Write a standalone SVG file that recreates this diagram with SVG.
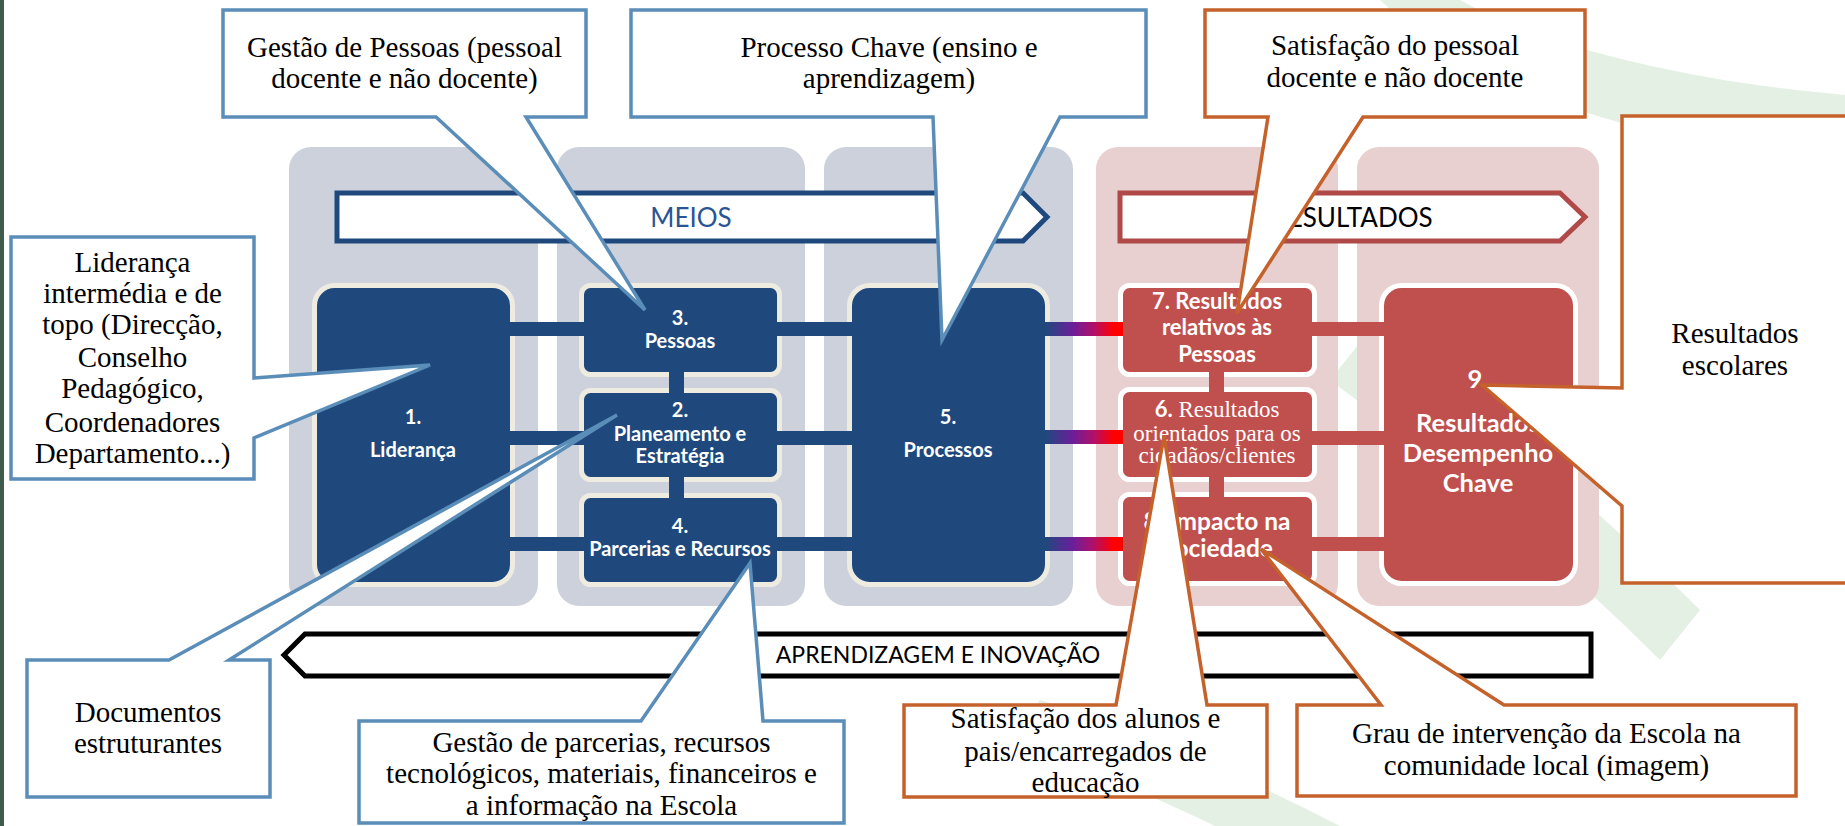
<svg xmlns="http://www.w3.org/2000/svg" width="1845" height="826" viewBox="0 0 1845 826">
<defs>
<style>
.col-b{fill:#cdd1db}
.col-r{fill:#e8cfd0}
.nb{fill:#1f497d;stroke:#eeece1;stroke-width:5}
.nr{fill:#c0504d;stroke:#ffffff;stroke-width:5}
.bb{fill:#1f497d}
.br{fill:#c0504d}
.bg{fill:url(#gbar)}
.nt{font-family:Lato,'Open Sans',sans-serif;font-weight:bold;fill:#ffffff;text-anchor:middle}
.ns{font-family:'Liberation Serif','DejaVu Serif',serif;fill:#ffffff;text-anchor:middle}
.bt{font-family:Lato,'Open Sans',sans-serif;text-anchor:middle}
.cb{fill:#ffffff;stroke:#5b8db9;stroke-width:3.5;stroke-linejoin:miter}
.co{fill:#ffffff;stroke:#c5622b;stroke-width:3.5;stroke-linejoin:miter}
.ct{font-family:'Liberation Serif','DejaVu Serif',serif;font-size:29px;fill:#000000;text-anchor:middle}
.sw{fill:#d6e8d6;opacity:0.65}
</style>
<linearGradient id="gbar" x1="0" y1="0" x2="1" y2="0">
<stop offset="0" stop-color="#1f497d"/>
<stop offset="0.35" stop-color="#6a1f9a"/>
<stop offset="0.62" stop-color="#b0106a"/>
<stop offset="0.88" stop-color="#ff0000"/>
<stop offset="1" stop-color="#ff0000"/>
</linearGradient>
</defs>

<rect x="0" y="0" width="1845" height="826" fill="#ffffff"/>
<rect x="0" y="0" width="4" height="826" fill="#3f5b4b"/>

<g id="background-swooshes">
<path class="sw" d="M1380,0 L1460,0 C1530,40 1670,80 1845,95 L1845,160 C1660,145 1490,100 1380,0 Z"/>
<path class="sw" d="M1370,330 C1480,410 1600,510 1700,610 L1660,660 C1560,560 1450,470 1330,380 Z"/>
<path class="sw" d="M1040,700 C1140,730 1250,780 1340,826 L1215,826 C1140,790 1080,765 1010,745 Z"/>
</g>

<g id="columns">
<rect class="col-b" x="289" y="147" width="249" height="459" rx="22"/>
<rect class="col-b" x="557" y="147" width="248" height="459" rx="22"/>
<rect class="col-b" x="824" y="147" width="249" height="459" rx="22"/>
<rect class="col-r" x="1096" y="147" width="242" height="459" rx="22"/>
<rect class="col-r" x="1357" y="147" width="242" height="459" rx="22"/>
</g>

<g id="banner-meios">
<polygon points="337,193 1023,193 1047,217 1023,241 337,241" fill="#ffffff" stroke="#1f497d" stroke-width="5"/>
<text class="bt" x="691" y="227" font-size="26" fill="#2a5595">MEIOS</text>
</g>
<g id="banner-resultados">
<polygon points="1120,193 1560,193 1585,217 1560,241 1120,241" fill="#ffffff" stroke="#b04a48" stroke-width="5"/>
<text class="bt" x="1352" y="227" font-size="26" fill="#000000">RESULTADOS</text>
</g>

<g id="node-1">
<rect class="nb" x="314.5" y="285.5" width="198" height="299" rx="20"/>
<text class="nt" x="413" y="424" font-size="20">1.</text>
<text class="nt" x="413" y="457" font-size="20">Liderança</text>
</g>
<g id="node-3">
<rect class="nb" x="581.5" y="285.5" width="198" height="89" rx="9"/>
<text class="nt" x="680" y="325" font-size="20">3.</text>
<text class="nt" x="680" y="348" font-size="20">Pessoas</text>
</g>
<g id="node-2">
<rect class="nb" x="581.5" y="390.5" width="198" height="89" rx="9"/>
<text class="nt" x="680" y="417" font-size="20">2.</text>
<text class="nt" x="680" y="441" font-size="20">Planeamento e</text>
<text class="nt" x="680" y="463" font-size="20">Estratégia</text>
</g>
<g id="node-4">
<rect class="nb" x="581.5" y="495.5" width="198" height="89" rx="9"/>
<text class="nt" x="680" y="533" font-size="20">4.</text>
<text class="nt" x="680" y="556" font-size="20">Parcerias e Recursos</text>
</g>
<g id="node-5">
<rect class="nb" x="849.5" y="285.5" width="198" height="299" rx="20"/>
<text class="nt" x="948" y="424" font-size="20">5.</text>
<text class="nt" x="948" y="457" font-size="20">Processos</text>
</g>
<g id="node-7">
<rect class="nr" x="1120.5" y="285.5" width="194" height="89" rx="9"/>
<text class="nt" x="1217" y="309" font-size="22">7. Resultados</text>
<text class="nt" x="1217" y="335" font-size="22">relativos às</text>
<text class="nt" x="1217" y="362" font-size="22">Pessoas</text>
</g>
<g id="node-6">
<rect class="nr" x="1120.5" y="389.5" width="194" height="90" rx="9"/>
<text class="ns" x="1217" y="417" font-size="23"><tspan font-family="Lato,'Open Sans',sans-serif" font-weight="bold" font-size="22">6.</tspan>  Resultados</text>
<text class="ns" x="1217" y="441" font-size="23">orientados para os</text>
<text class="ns" x="1217" y="463" font-size="23">cidadãos/clientes</text>
</g>
<g id="node-8">
<rect class="nr" x="1120.5" y="494.5" width="194" height="89" rx="9"/>
<text class="nt" x="1217" y="530" font-size="24.5">8. Impacto na</text>
<text class="nt" x="1217" y="557" font-size="24.5">Sociedade</text>
</g>
<g id="node-9">
<rect class="nr" x="1381.5" y="285.5" width="194" height="298" rx="20"/>
<text class="nt" x="1478" y="388" font-size="25.5">9.</text>
<text class="nt" x="1478" y="432" font-size="25.5">Resultados</text>
<text class="nt" x="1478" y="462" font-size="25.5">Desempenho</text>
<text class="nt" x="1478" y="492" font-size="25.5">Chave</text>
</g>

<g id="connectors">
<rect class="bb" x="510" y="322" width="74" height="14"/>
<rect class="bb" x="510" y="431" width="74" height="14"/>
<rect class="bb" x="510" y="537" width="74" height="14"/>
<rect class="bb" x="777" y="322" width="75" height="14"/>
<rect class="bb" x="777" y="431" width="75" height="14"/>
<rect class="bb" x="777" y="537" width="75" height="14"/>
<rect class="bb" x="669" y="372" width="15" height="21"/>
<rect class="bb" x="669" y="477" width="15" height="21"/>
<rect class="bg" x="1045" y="322" width="78" height="14"/>
<rect class="bg" x="1045" y="430" width="78" height="14"/>
<rect class="bg" x="1045" y="537" width="78" height="14"/>
<rect class="br" x="1312" y="322" width="72" height="14"/>
<rect class="br" x="1312" y="431" width="72" height="14"/>
<rect class="br" x="1312" y="537" width="72" height="14"/>
<rect class="br" x="1209" y="372" width="15" height="20"/>
<rect class="br" x="1209" y="477" width="15" height="20"/>
</g>

<g id="banner-aprendizagem">
<polygon points="284,655 305,634 1591,634 1591,676 305,676" fill="#ffffff" stroke="#000000" stroke-width="5"/>
<text class="bt" x="938" y="663" font-size="23" fill="#000000">APRENDIZAGEM E INOVAÇÃO</text>
</g>

<g id="callout-gestao-pessoas">
<path class="cb" d="M223,10 H586 V117 H526 L645,310 L436,117 H223 Z"/>
<text class="ct" x="404.5" y="57">Gestão de Pessoas (pessoal</text>
<text class="ct" x="404.5" y="88">docente e não docente)</text>
</g>
<g id="callout-processo-chave">
<path class="cb" d="M631,10 H1146 V117 H1060 L942,340 L933,117 H631 Z"/>
<text class="ct" x="889" y="57">Processo Chave (ensino e</text>
<text class="ct" x="889" y="88">aprendizagem)</text>
</g>
<g id="callout-satisfacao-pessoal">
<path class="co" d="M1205,10 H1585 V117 H1363 L1237,313 L1268,117 H1205 Z"/>
<text class="ct" x="1395" y="55">Satisfação do pessoal</text>
<text class="ct" x="1395" y="87">docente e não docente</text>
</g>
<g id="callout-resultados-escolares">
<path class="co" d="M1622,116 H1870 V583 H1622 V506 L1482,385 L1622,388 Z"/>
<text class="ct" x="1735" y="343">Resultados</text>
<text class="ct" x="1735" y="375">escolares</text>
</g>
<g id="callout-lideranca">
<path class="cb" d="M11,237 H254 V378 L430,365 L254,438 V479 H11 Z"/>
<text class="ct" x="132.5" y="272">Liderança</text>
<text class="ct" x="132.5" y="303">intermédia e de</text>
<text class="ct" x="132.5" y="334">topo (Direcção,</text>
<text class="ct" x="132.5" y="367">Conselho</text>
<text class="ct" x="132.5" y="398">Pedagógico,</text>
<text class="ct" x="132.5" y="432">Coordenadores</text>
<text class="ct" x="132.5" y="463">Departamento...)</text>
</g>
<g id="callout-documentos">
<path class="cb" d="M27,660 H169 L617,415 L229,660 H270 V797 H27 Z"/>
<text class="ct" x="148" y="722">Documentos</text>
<text class="ct" x="148" y="753">estruturantes</text>
</g>
<g id="callout-parcerias">
<path class="cb" d="M359,721 H641 L750,563 L763,721 H844 V823 H359 Z"/>
<text class="ct" x="601.5" y="752">Gestão de parcerias, recursos</text>
<text class="ct" x="601.5" y="783">tecnológicos, materiais, financeiros e</text>
<text class="ct" x="601.5" y="815">a informação na Escola</text>
</g>
<g id="callout-satisfacao-alunos">
<path class="co" d="M904,705 H1116 L1164,436 L1207,705 H1267 V797 H904 Z"/>
<text class="ct" x="1085.5" y="728">Satisfação dos alunos e</text>
<text class="ct" x="1085.5" y="761">pais/encarregados de</text>
<text class="ct" x="1085.5" y="792">educação</text>
</g>
<g id="callout-intervencao">
<path class="co" d="M1297,705 H1381 L1261,549 L1504,705 H1796 V796 H1297 Z"/>
<text class="ct" x="1546.5" y="743">Grau de intervenção da Escola na</text>
<text class="ct" x="1546.5" y="775">comunidade local (imagem)</text>
</g>
</svg>
